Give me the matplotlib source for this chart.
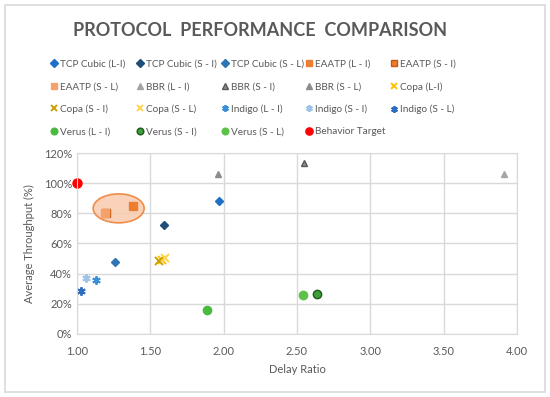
import matplotlib.pyplot as plt
from matplotlib.patches import Ellipse, Rectangle
from matplotlib.ticker import PercentFormatter

plt.rcParams['font.family'] = ['Lato', 'DejaVu Sans']

# series: label, delay ratio, average throughput
labels = [
    "TCP Cubic (L-I)", "TCP Cubic (S - I)", "TCP Cubic (S - L)",
    "EAATP (L - I)", "EAATP (S - I)", "EAATP (S - L)",
    "BBR (L - I)", "BBR (S - I)", "BBR (S - L)",
    "Copa (L-I)", "Copa (S - I)", "Copa (S - L)",
    "Indigo (L - I)", "Indigo (S - I)", "Indigo (S - L)",
    "Verus (L - I)", "Verus (S - I)", "Verus (S - L)",
    "Behavior Target",
]
delay = [1.965, 1.59, 1.26,
         1.38, 1.20, 1.19,
         3.91, 2.545, 1.96,
         1.58, 1.556, 1.60,
         1.13, 1.06, 1.027,
         1.886, 2.636, 2.538,
         1.00]
throughput = [88.4, 72.0, 47.5,
              84.6, 80.0, 80.0,
              106.3, 113.4, 105.9,
              49.0, 48.1, 50.5,
              36.0, 37.1, 28.3,
              15.9, 26.5, 26.0,
              100.0]

# marker, face colour, edge colour, size
styles = [
    ("D", "#1F6FC5", "#1F6FC5", 4.5),
    ("D", "#1F4E79", "#1F4E79", 4.5),
    ("D", "#2E75B6", "#2E75B6", 4.5),
    ("s", "#ED7D31", "#ED7D31", 6),
    ("s", "#ED7D31", "#C55A11", 6),
    ("s", "#F4A26B", "#F4A26B", 6),
    ("^", "#A5A5A5", "#A5A5A5", 5),
    ("^", "#8C8C8C", "#595959", 5),
    ("^", "#8C8C8C", "#8C8C8C", 5),
    ("x", "#FFC000", "#FFC000", 5.5),
    ("x", "#C9A000", "#3F3F00", 5.5),
    ("x", "#FFD54F", "#FFD54F", 5.5),
    ((6, 2, 0), "#3A8FD9", "#3A8FD9", 6),
    ((6, 2, 0), "#9DC3E6", "#9DC3E6", 6),
    ((6, 2, 0), "#2E6EC0", "#2E6EC0", 6),
    ("o", "#4CB940", "#4CB940", 6),
    ("o", "#3F9E3A", "#1E5A1E", 6),
    ("o", "#5CC24A", "#5CC24A", 6),
    ("o", "#FF0000", "#FF0000", 6.5),
]

fig = plt.figure(figsize=(5.5, 3.97), dpi=100)
fig.patches.append(Rectangle((5 / 550, 5 / 397), 540 / 550, 387 / 397,
                             transform=fig.transFigure, fill=False,
                             edgecolor="#D9D9D9", linewidth=1.2))

ax = fig.add_axes([0.14, 0.1587, 0.8, 0.4559])

handles = []
for lab, x, y, (m, fc, ec, ms) in zip(labels, delay, throughput, styles):
    if m == "x" or isinstance(m, tuple):
        h, = ax.plot([x], [y], linestyle="none", marker=m, color=fc,
                     markersize=ms, markeredgewidth=1.4, label=lab,
                     clip_on=False)
    else:
        h, = ax.plot([x], [y], linestyle="none", marker=m,
                     markerfacecolor=fc, markeredgecolor=ec,
                     markersize=ms, markeredgewidth=1.0, label=lab,
                     clip_on=False)
    handles.append(h)

ax.add_patch(Ellipse((1.284, 83.3), 0.348, 19.2, facecolor="#F8CBAD",
                     edgecolor="#ED7D31", alpha=0.85, linewidth=1.2, zorder=1))

ax.set_xlim(1.0, 4.0)
ax.set_ylim(0, 120)
ax.set_xticks([1.0, 1.5, 2.0, 2.5, 3.0, 3.5, 4.0])
ax.set_xticklabels(["1.00", "1.50", "2.00", "2.50", "3.00", "3.50", "4.00"])
ax.set_yticks(range(0, 121, 20))
ax.yaxis.set_major_formatter(PercentFormatter(decimals=0))
ax.grid(True, color="#D9D9D9", linewidth=1)
ax.set_axisbelow(True)
for s in ax.spines.values():
    s.set_color("#D9D9D9")
ax.tick_params(length=0, colors="#595959", labelsize=8)
ax.tick_params(axis="x", pad=9)
ax.set_xlabel("Delay Ratio", fontsize=8, color="#595959", labelpad=5)
ax.set_ylabel("Average Throughput (%)", fontsize=8, color="#595959", labelpad=6)

fig.text(0.473, 0.924, "PROTOCOL  PERFORMANCE  COMPARISON", ha="center",
         va="center", fontsize=13, fontweight="bold", color="#595959")

# legend reads row-wise: one small legend per column
ncol = 5
col_x = [50, 136, 221, 305, 390]
for c in range(ncol):
    idx = list(range(c, len(handles), ncol))
    fig.legend([handles[i] for i in idx], [labels[i] for i in idx],
               loc="upper left", bbox_to_anchor=(col_x[c] / 550, 0.849),
               frameon=False, fontsize=7.2, labelcolor="#595959",
               handlelength=0.7, handletextpad=0.3, markerscale=0.8,
               labelspacing=1.32, borderpad=0, borderaxespad=0)

fig.savefig("out.png", dpi=100)
